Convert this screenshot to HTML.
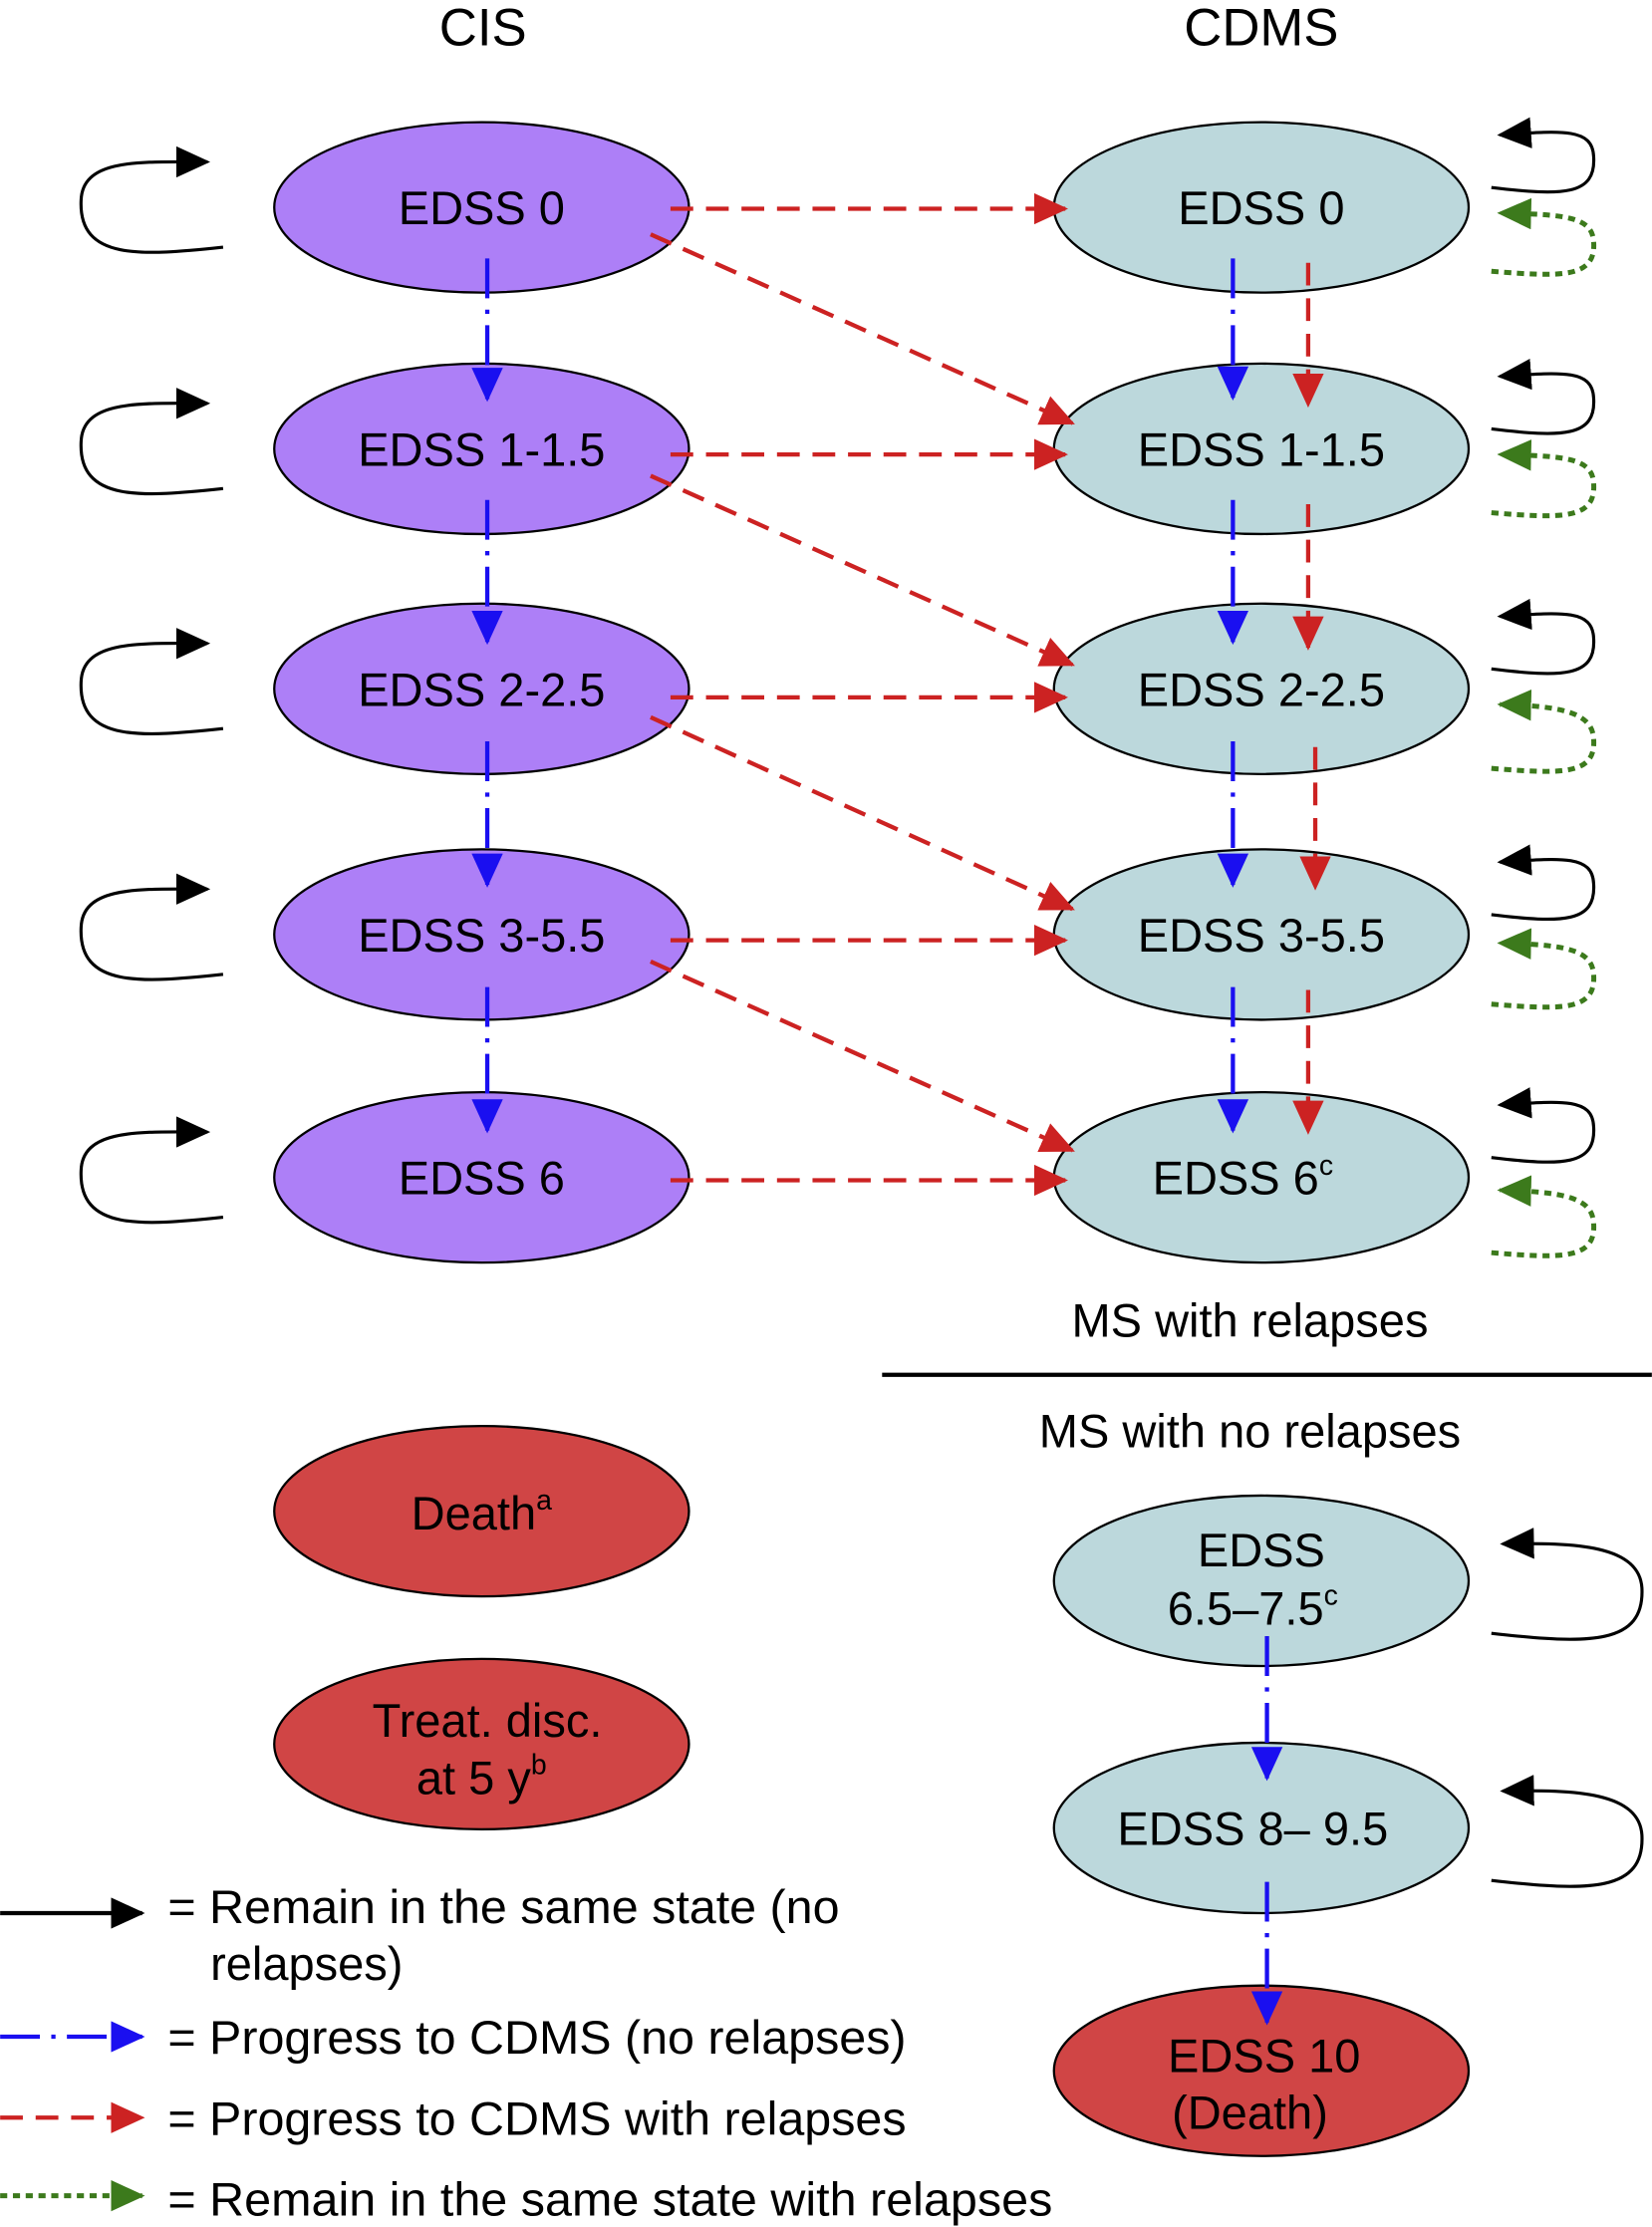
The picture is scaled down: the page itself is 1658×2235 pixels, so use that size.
<!DOCTYPE html>
<html><head><meta charset="utf-8"><style>
html,body{margin:0;padding:0;background:#fff;}
svg{display:block;}
text{font-family:"Liberation Sans",Arial,sans-serif;fill:#000;}
</style></head><body>
<svg width="1658" height="2235" viewBox="0 0 1163 1568" xmlns="http://www.w3.org/2000/svg">
<defs>
<marker id="mb" viewBox="0 0 24 22" refX="22" refY="11" markerWidth="24" markerHeight="22" markerUnits="userSpaceOnUse" orient="auto"><path d="M0,0 L24,11 L0,22 z" fill="#1a0ff0"/></marker>
<marker id="mr" viewBox="0 0 24 22" refX="22" refY="11" markerWidth="24" markerHeight="22" markerUnits="userSpaceOnUse" orient="auto"><path d="M0,0 L24,11 L0,22 z" fill="#cc2222"/></marker>
<marker id="mg" viewBox="0 0 24 22" refX="22" refY="11" markerWidth="24" markerHeight="22" markerUnits="userSpaceOnUse" orient="auto"><path d="M0,0 L24,11 L0,22 z" fill="#3c7a1c"/></marker>
<marker id="mblk" viewBox="0 0 24 22" refX="22" refY="11" markerWidth="24" markerHeight="22" markerUnits="userSpaceOnUse" orient="auto"><path d="M0,0 L24,11 L0,22 z" fill="#000"/></marker>
</defs>

<text x="340" y="32" font-size="37" text-anchor="middle">CIS</text>
<text x="888" y="32" font-size="37" text-anchor="middle">CDMS</text>

<g stroke="#000" stroke-width="1.6">
<ellipse cx="339" cy="146" rx="146" ry="60" fill="#ad7ff7"/>
<ellipse cx="339" cy="316" rx="146" ry="60" fill="#ad7ff7"/>
<ellipse cx="339" cy="485" rx="146" ry="60" fill="#ad7ff7"/>
<ellipse cx="339" cy="658" rx="146" ry="60" fill="#ad7ff7"/>
<ellipse cx="339" cy="829" rx="146" ry="60" fill="#ad7ff7"/>
<ellipse cx="888" cy="146" rx="146" ry="60" fill="#bcd8dc"/>
<ellipse cx="888" cy="316" rx="146" ry="60" fill="#bcd8dc"/>
<ellipse cx="888" cy="485" rx="146" ry="60" fill="#bcd8dc"/>
<ellipse cx="888" cy="658" rx="146" ry="60" fill="#bcd8dc"/>
<ellipse cx="888" cy="829" rx="146" ry="60" fill="#bcd8dc"/>
<ellipse cx="339" cy="1064" rx="146" ry="60" fill="#d04545"/>
<ellipse cx="339" cy="1228" rx="146" ry="60" fill="#d04545"/>
<ellipse cx="888" cy="1113" rx="146" ry="60" fill="#bcd8dc"/>
<ellipse cx="888" cy="1287" rx="146" ry="60" fill="#bcd8dc"/>
<ellipse cx="888" cy="1458" rx="146" ry="60" fill="#d04545"/>
</g>

<g font-size="33" text-anchor="middle">
<text x="339" y="158">EDSS 0</text>
<text x="339" y="328">EDSS 1-1.5</text>
<text x="339" y="497">EDSS 2-2.5</text>
<text x="339" y="670">EDSS 3-5.5</text>
<text x="339" y="841">EDSS 6</text>
<text x="888" y="158">EDSS 0</text>
<text x="888" y="328">EDSS 1-1.5</text>
<text x="888" y="497">EDSS 2-2.5</text>
<text x="888" y="670">EDSS 3-5.5</text>
<text x="875" y="841">EDSS 6<tspan font-size="20" dy="-14">c</tspan></text>
<text x="339" y="1077">Death<tspan font-size="20" dy="-14">a</tspan></text>
<text x="343" y="1223">Treat. disc.</text>
<text x="339" y="1263">at 5 y<tspan font-size="20" dy="-14">b</tspan></text>
<text x="888" y="1103">EDSS</text>
<text x="882" y="1144">6.5–7.5<tspan font-size="20" dy="-14">c</tspan></text>
<text x="882" y="1299">EDSS 8– 9.5</text>
<text x="890" y="1459">EDSS 10</text>
<text x="880" y="1499">(Death)</text>
<text x="880" y="941">MS with relapses</text>
<text x="880" y="1019">MS with no relapses</text>
</g>
<line x1="621" y1="968" x2="1163" y2="968" stroke="#000" stroke-width="3"/>

<g stroke="#cc2222" stroke-width="3" stroke-dasharray="16,9" fill="none">
<line x1="472" y1="147" x2="750" y2="147" marker-end="url(#mr)"/>
<line x1="472" y1="320" x2="750" y2="320" marker-end="url(#mr)"/>
<line x1="472" y1="491" x2="750" y2="491" marker-end="url(#mr)"/>
<line x1="472" y1="662" x2="750" y2="662" marker-end="url(#mr)"/>
<line x1="472" y1="831" x2="750" y2="831" marker-end="url(#mr)"/>
<line x1="458" y1="165" x2="755" y2="298" marker-end="url(#mr)"/>
<line x1="458" y1="335" x2="755" y2="468" marker-end="url(#mr)"/>
<line x1="458" y1="505" x2="755" y2="640" marker-end="url(#mr)"/>
<line x1="458" y1="677" x2="755" y2="810" marker-end="url(#mr)"/>
<line x1="921" y1="185" x2="921" y2="285" marker-end="url(#mr)"/>
<line x1="921" y1="355" x2="921" y2="456" marker-end="url(#mr)"/>
<line x1="926" y1="526" x2="926" y2="625" marker-end="url(#mr)"/>
<line x1="921" y1="697" x2="921" y2="797" marker-end="url(#mr)"/>
<line x1="0" y1="1491" x2="100" y2="1491" marker-end="url(#mr)"/>
</g>

<g stroke="#1a0ff0" stroke-width="3" stroke-dasharray="28,8,3,8" fill="none">
<line x1="343" y1="182" x2="343" y2="281" marker-end="url(#mb)"/>
<line x1="343" y1="352" x2="343" y2="452" marker-end="url(#mb)"/>
<line x1="343" y1="522" x2="343" y2="623" marker-end="url(#mb)"/>
<line x1="343" y1="695" x2="343" y2="796" marker-end="url(#mb)"/>
<line x1="868" y1="182" x2="868" y2="280" marker-end="url(#mb)"/>
<line x1="868" y1="352" x2="868" y2="452" marker-end="url(#mb)"/>
<line x1="868" y1="522" x2="868" y2="623" marker-end="url(#mb)"/>
<line x1="868" y1="695" x2="868" y2="796" marker-end="url(#mb)"/>
<line x1="892" y1="1152" x2="892" y2="1252" marker-end="url(#mb)"/>
<line x1="892" y1="1325" x2="892" y2="1424" marker-end="url(#mb)"/>
<line x1="0" y1="1434" x2="100" y2="1434" marker-end="url(#mb)"/>
</g>

<g stroke="#000" stroke-width="2.2" fill="none">
<path d="M157,174 C100,180 55,184 57,141 C58,111 100,114 146,114" marker-end="url(#mblk)"/>
<path d="M157,344 C100,350 55,354 57,311 C58,281 100,284 146,284" marker-end="url(#mblk)"/>
<path d="M157,513 C100,519 55,523 57,480 C58,450 100,453 146,453" marker-end="url(#mblk)"/>
<path d="M157,686 C100,692 55,696 57,653 C58,623 100,626 146,626" marker-end="url(#mblk)"/>
<path d="M157,857 C100,863 55,867 57,824 C58,794 100,797 146,797" marker-end="url(#mblk)"/>
<path d="M1050,132 C1100,138 1124,138 1122,110 C1121,90 1100,92 1056,95" marker-end="url(#mblk)"/>
<path d="M1050,302 C1100,308 1124,308 1122,280 C1121,260 1100,262 1056,265" marker-end="url(#mblk)"/>
<path d="M1050,471 C1100,477 1124,477 1122,449 C1121,429 1100,431 1056,434" marker-end="url(#mblk)"/>
<path d="M1050,644 C1100,650 1124,650 1122,622 C1121,602 1100,604 1056,607" marker-end="url(#mblk)"/>
<path d="M1050,815 C1100,821 1124,821 1122,793 C1121,773 1100,775 1056,778" marker-end="url(#mblk)"/>
<path d="M1050,1150 C1120,1158 1158,1158 1156,1118 C1154,1088 1110,1086 1058,1087" marker-end="url(#mblk)"/>
<path d="M1050,1324 C1120,1332 1158,1332 1156,1292 C1154,1262 1110,1260 1058,1261" marker-end="url(#mblk)"/>
<line x1="0" y1="1347" x2="100" y2="1347" stroke-width="3" marker-end="url(#mblk)"/>
</g>

<g stroke="#3c7a1c" stroke-width="3.5" stroke-dasharray="5,4" fill="none">
<path d="M1050,191 C1100,195 1124,196 1122,170 C1121,152 1100,151 1056,150" marker-end="url(#mg)"/>
<path d="M1050,361 C1100,365 1124,366 1122,340 C1121,322 1100,321 1056,320" marker-end="url(#mg)"/>
<path d="M1050,541 C1100,545 1124,546 1122,520 C1121,502 1100,497 1056,496" marker-end="url(#mg)"/>
<path d="M1050,707 C1100,711 1124,712 1122,686 C1121,668 1100,665 1056,664" marker-end="url(#mg)"/>
<path d="M1050,882 C1100,886 1124,887 1122,861 C1121,843 1100,839 1056,838" marker-end="url(#mg)"/>
<line x1="0" y1="1546" x2="100" y2="1546" marker-end="url(#mg)"/>
</g>

<g font-size="33">
<text x="118" y="1354" textLength="473" lengthAdjust="spacingAndGlyphs">= Remain in the same state (no</text>
<text x="148" y="1394">relapses)</text>
<text x="118" y="1446" textLength="520" lengthAdjust="spacingAndGlyphs">= Progress to CDMS (no relapses)</text>
<text x="118" y="1503" textLength="520" lengthAdjust="spacingAndGlyphs">= Progress to CDMS with relapses</text>
<text x="118" y="1560" textLength="623" lengthAdjust="spacingAndGlyphs">= Remain in the same state with relapses</text>
</g>
</svg>
</body></html>
